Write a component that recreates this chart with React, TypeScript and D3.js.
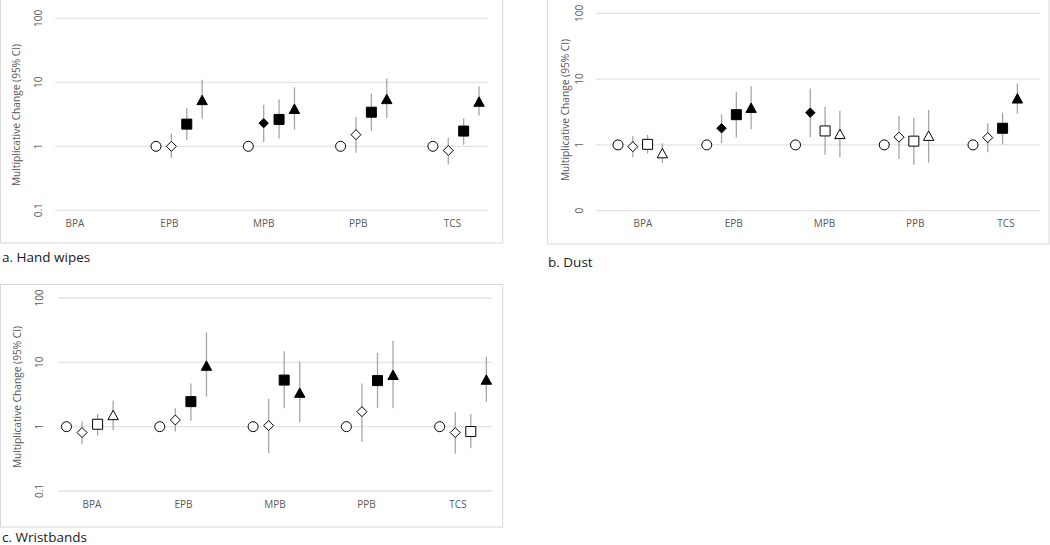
import React from 'react';
import * as d3 from 'd3';

// ---------- DATA ----------
const categories = ['BPA', 'EPB', 'MPB', 'PPB', 'TCS'];
const yTickValues = [0.1, 1, 10, 100];
const yTickLabelsAC = ['0.1', '1', '10', '100'];
const yTickLabelsB = ['0', '1', '10', '100'];
const axisTitle = 'Multiplicative Change (95% CI)';

type Est = [number, number, number] | null; // [estimate, lower, upper]

// a. Hand wipes
const handCircle: Est[] = [null, [1, 1, 1], [1, 1, 1], [1, 1, 1], [1, 1, 1]];
const handDiamond: Est[] = [null, [1.0, 0.66, 1.57], [2.3, 1.17, 4.45], [1.52, 0.79, 2.86], [0.86, 0.52, 1.36]];
const handDiamondFilled = [false, false, true, false, false];
const handSquare: Est[] = [null, [2.22, 1.24, 4.0], [2.63, 1.32, 5.4], [3.41, 1.73, 6.6], [1.73, 1.06, 2.75]];
const handSquareFilled = [false, true, true, true, true];
const handTriangle: Est[] = [null, [5.3, 2.7, 11.0], [3.86, 1.82, 8.4], [5.5, 2.75, 11.5], [5.0, 3.03, 8.6]];
const handTriangleFilled = [false, true, true, true, true];

// b. Dust
const dustCircle: Est[] = [[1, 1, 1], [1, 1, 1], [1, 1, 1], [1, 1, 1], [1, 1, 1]];
const dustDiamond: Est[] = [[0.94, 0.65, 1.37], [1.79, 1.06, 2.92], [3.09, 1.31, 7.2], [1.31, 0.61, 2.75], [1.29, 0.77, 2.13]];
const dustDiamondFilled = [false, true, true, false, false];
const dustSquare: Est[] = [[1.02, 0.74, 1.42], [2.88, 1.29, 6.3], [1.63, 0.71, 3.8], [1.14, 0.5, 2.6], [1.79, 1.02, 3.09]];
const dustSquareFilled = [false, true, false, false, true];
const dustTriangle: Est[] = [[0.75, 0.53, 1.06], [3.67, 1.73, 7.8], [1.47, 0.65, 3.3], [1.38, 0.54, 3.4], [5.1, 3.0, 8.6]];
const dustTriangleFilled = [false, true, false, false, true];

// c. Wristbands
const wristCircle: Est[] = [[1, 1, 1], [1, 1, 1], [1, 1, 1], [1, 1, 1], [1, 1, 1]];
const wristDiamond: Est[] = [[0.81, 0.54, 1.21], [1.27, 0.84, 1.93], [1.04, 0.39, 2.7], [1.71, 0.58, 4.7], [0.81, 0.38, 1.67]];
const wristDiamondFilled = [false, false, false, false, false];
const wristSquare: Est[] = [[1.09, 0.73, 1.57], [2.45, 1.24, 4.67], [5.3, 1.93, 14.9], [5.2, 1.97, 14.1], [0.84, 0.46, 1.57]];
const wristSquareFilled = [false, true, true, true, false];
const wristTriangle: Est[] = [[1.52, 0.89, 2.54], [8.9, 2.93, 29], [3.38, 1.17, 10.3], [6.4, 1.93, 21.7], [5.4, 2.45, 12.2]];
const wristTriangleFilled = [false, true, true, true, true];

const noFill = [false, false, false, false, false];

// ---------- LAYOUT ----------
type Shape = 'circle' | 'diamond' | 'square' | 'triangle';
interface Series { shape: Shape; values: Est[]; filled: boolean[] }
interface PanelCfg {
  key: string;
  caption: string;
  series: Series[];
  tickLabels: string[];
  frame: { x: number; y: number; w: number; h: number };
  grid: { x0: number; x1: number; yTop: number; yBot: number };
  pts: { x0: number; step: number };
  labels: { x0: number; x1: number; y: number };
  tickX: number;
  titleX: number;
  titleY: number;
  captionX: number;
  captionY: number;
}

const panels: PanelCfg[] = [
  {
    key: 'a',
    caption: 'a. Hand wipes',
    series: [
      { shape: 'circle', values: handCircle, filled: noFill },
      { shape: 'diamond', values: handDiamond, filled: handDiamondFilled },
      { shape: 'square', values: handSquare, filled: handSquareFilled },
      { shape: 'triangle', values: handTriangle, filled: handTriangleFilled },
    ],
    tickLabels: yTickLabelsAC,
    frame: { x: 0.5, y: -2, w: 502.2, h: 245 },
    grid: { x0: 55, x1: 488, yTop: 18.3, yBot: 210.3 },
    pts: { x0: 63.7, step: 92.3 },
    labels: { x0: 75, x1: 452.5, y: 222.5 },
    tickX: 38,
    titleX: 16,
    titleY: 115,
    captionX: 2,
    captionY: 261.5,
  },
  {
    key: 'b',
    caption: 'b. Dust',
    series: [
      { shape: 'circle', values: dustCircle, filled: noFill },
      { shape: 'diamond', values: dustDiamond, filled: dustDiamondFilled },
      { shape: 'square', values: dustSquare, filled: dustSquareFilled },
      { shape: 'triangle', values: dustTriangle, filled: dustTriangleFilled },
    ],
    tickLabels: yTickLabelsB,
    frame: { x: 547.5, y: -2, w: 501.5, h: 246 },
    grid: { x0: 596, x1: 1040, yTop: 13.3, yBot: 210.7 },
    pts: { x0: 618, step: 88.75 },
    labels: { x0: 643, x1: 1006, y: 222.5 },
    tickX: 579,
    titleX: 565,
    titleY: 110,
    captionX: 548,
    captionY: 266.5,
  },
  {
    key: 'c',
    caption: 'c. Wristbands',
    series: [
      { shape: 'circle', values: wristCircle, filled: noFill },
      { shape: 'diamond', values: wristDiamond, filled: wristDiamondFilled },
      { shape: 'square', values: wristSquare, filled: wristSquareFilled },
      { shape: 'triangle', values: wristTriangle, filled: wristTriangleFilled },
    ],
    tickLabels: yTickLabelsAC,
    frame: { x: 0.5, y: 284.5, w: 502.2, h: 242.5 },
    grid: { x0: 58, x1: 492, yTop: 298, yBot: 491 },
    pts: { x0: 66.5, step: 93.3 },
    labels: { x0: 92, x1: 458, y: 503.5 },
    tickX: 39,
    titleX: 17,
    titleY: 397,
    captionX: 2,
    captionY: 541.5,
  },
];

const FONT = "'Open Sans', 'Noto Sans', sans-serif";
const AXIS_GREY = '#595959';

function markerPath(shape: Shape, x: number, y: number, filled: boolean): string {
  if (shape === 'square') {
    const h = 5;
    return `M${x - h},${y - h}H${x + h}V${y + h}H${x - h}Z`;
  }
  if (shape === 'diamond') {
    const h = filled ? 4.7 : 5;
    return `M${x},${y - h}L${x + h},${y}L${x},${y + h}L${x - h},${y}Z`;
  }
  if (shape === 'triangle') {
    const hw = 5.2, hh = 4.7;
    return `M${x},${y - hh}L${x + hw},${y + hh}L${x - hw},${y + hh}Z`;
  }
  const p = d3.path();
  p.arc(x, y, 5, 0, Math.PI * 2);
  return p.toString();
}

function Panel({ p }: { p: PanelCfg }) {
  const y = d3.scaleLog().domain([0.1, 100]).range([p.grid.yBot, p.grid.yTop]);
  const x = d3.scaleLinear().domain([0, 1]).range([p.pts.x0, p.pts.x0 + p.pts.step]);
  const lx = d3.scalePoint<string>().domain(categories).range([p.labels.x0, p.labels.x1]);
  const nS = 6;

  return (
    <g>
      <rect x={p.frame.x} y={p.frame.y} width={p.frame.w} height={p.frame.h} fill="#fff" stroke="#d9d9d9" strokeWidth={1} />
      {yTickValues.map((v, i) => (
        <g key={'t' + i}>
          <line x1={p.grid.x0} x2={p.grid.x1} y1={y(v)} y2={y(v)} stroke="#e3e3e3" strokeWidth={1.3} />
          <text
            transform={`translate(${p.tickX},${y(v)}) rotate(-90)`}
            textAnchor="middle"
            dominantBaseline="central"
            fontFamily={FONT}
            fontSize={10}
            fill={AXIS_GREY}
          >
            {p.tickLabels[i]}
          </text>
        </g>
      ))}
      <text
        transform={`translate(${p.titleX},${p.titleY}) rotate(-90)`}
        textAnchor="middle"
        dominantBaseline="central"
        fontFamily={FONT}
        fontSize={10.2}
        fill={AXIS_GREY}
      >
        {axisTitle}
      </text>
      {categories.map((c) => (
        <text key={c} x={lx(c)} y={p.labels.y} textAnchor="middle" dominantBaseline="central" fontFamily={FONT} fontSize={10} fill={AXIS_GREY}>
          {c}
        </text>
      ))}
      {p.series.map((s, j) =>
        s.values.map((d, i) => {
          if (!d) return null;
          const cx = x(i + j / nS);
          const [est, lo, hi] = d;
          return (
            <g key={`s${j}-${i}`}>
              {lo !== hi && (
                <line x1={cx} x2={cx} y1={y(lo)} y2={y(hi)} stroke="#a6a6a6" strokeWidth={1.3} />
              )}
              <path
                d={markerPath(s.shape, cx, y(est), s.filled[i])}
                fill={s.filled[i] ? '#000' : '#fff'}
                stroke="#000"
                strokeWidth={1}
              />
            </g>
          );
        })
      )}
      <text x={p.captionX} y={p.captionY} fontFamily={FONT} fontSize={13.5} fill="#1a1a1a">
        {p.caption}
      </text>
    </g>
  );
}

export default function App() {
  return (
    <div style={{ position: 'absolute', left: 0, top: 0 }}>
      <svg width={1050} height={545} style={{ display: 'block', background: '#fff' }}>
        {panels.map((p) => (
          <Panel key={p.key} p={p} />
        ))}
      </svg>
    </div>
  );
}
